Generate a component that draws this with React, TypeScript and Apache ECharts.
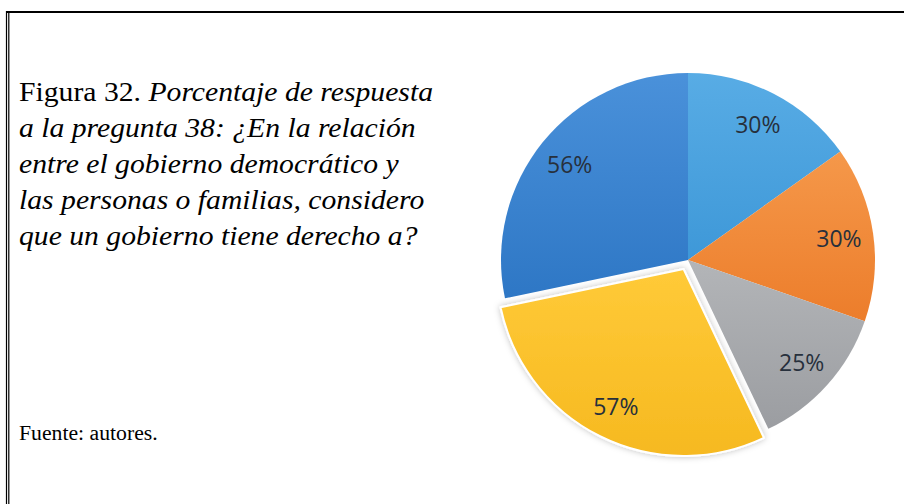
import React, { useEffect, useRef } from "react";
import * as echarts from "echarts";

const categories = ["Opción 1", "Opción 2", "Opción 3", "Opción 4", "Opción 5"];
const values = [30, 30, 25, 57, 56];
const explodedIndex = 3;
const colorsTop = ["#58ACE5", "#F5984A", "#B3B5B8", "#FFCA38", "#4A91DA"];
const colorsBottom = ["#3E98D8", "#EC7D2B", "#9B9DA1", "#F6B920", "#2E77C5"];
const captionLines = [
  "{n|Figura 32.} {i|Porcentaje de respuesta}",
  "{i|a la pregunta 38: ¿En la relación}",
  "{i|entre el gobierno democrático y}",
  "{i|las personas o familias, considero}",
  "{i|que un gobierno tiene derecho a?}",
];
const sourceText = "Fuente: autores.";

export default function App() {
  const ref = useRef<HTMLDivElement>(null);
  useEffect(() => {
    if (!ref.current) return;
    const chart = echarts.init(ref.current, null, { renderer: "svg" });
    const center = [688, 260];
    const baseData = values.map((v, i) => ({
      name: categories[i],
      value: v,
      selected: i === explodedIndex,
    }));
    chart.setOption({
      animation: false,
      backgroundColor: "#ffffff",
      series: [
        {
          type: "pie",
          center,
          radius: [0, 187],
          startAngle: 90,
          clockwise: true,
          selectedMode: "single",
          selectedOffset: 10,
          silent: true,
          label: { show: false },
          labelLine: { show: false },
          data: baseData.map((d, i) => ({
            ...d,
            itemStyle: {
              color: new echarts.graphic.LinearGradient(0, 0, 0, 1, [
                { offset: 0, color: colorsTop[i] },
                { offset: 1, color: colorsBottom[i] },
              ]),
              borderColor: i === explodedIndex ? "#ffffff" : colorsBottom[i],
              borderWidth: i === explodedIndex ? 2 : 0,
              shadowBlur: i === explodedIndex ? 6 : 0,
              shadowColor: "rgba(0,0,0,0.25)",
            },
          })),
        },
        {
          type: "pie",
          center,
          radius: [112, 187],
          startAngle: 90,
          clockwise: true,
          selectedMode: "single",
          selectedOffset: 10,
          silent: true,
          itemStyle: { color: "rgba(0,0,0,0)" },
          label: {
            show: true,
            position: "inside",
            formatter: "{c}%",
            fontFamily: "Open Sans",
            fontSize: 23,
            color: "#27303C",
          },
          labelLine: { show: false },
          data: baseData,
        },
      ],
      graphic: [
        {
          type: "line",
          shape: { x1: 6, y1: 12, x2: 904, y2: 12 },
          style: { stroke: "#000", lineWidth: 2 },
        },
        {
          type: "line",
          shape: { x1: 6.5, y1: 11, x2: 6.5, y2: 504 },
          style: { stroke: "#000", lineWidth: 1.2 },
        },
        {
          type: "line",
          shape: { x1: 8.8, y1: 11, x2: 8.8, y2: 504 },
          style: { stroke: "#000", lineWidth: 1.2 },
        },
        {
          type: "text",
          x: 19,
          y: 73,
          scaleX: 1.06,
          style: {
            text: captionLines.join("\n"),
            fill: "#000",
            fontFamily: "Liberation Serif",
            fontSize: 28,
            lineHeight: 36,
            rich: {
              n: { fontFamily: "Liberation Serif", fontSize: 28, lineHeight: 36, fill: "#000" },
              i: { fontFamily: "Liberation Serif", fontSize: 28, lineHeight: 36, fontStyle: "italic", fill: "#000" },
            },
          },
        },
        {
          type: "text",
          x: 19,
          y: 423,
          scaleX: 1.06,
          style: {
            text: sourceText,
            fill: "#000",
            fontFamily: "Liberation Serif",
            fontSize: 20.5,
          },
        },
      ],
    });
    return () => chart.dispose();
  }, []);
  return (
    <div
      ref={ref}
      style={{ position: "fixed", left: 0, top: 0, width: 904, height: 504 }}
    />
  );
}
